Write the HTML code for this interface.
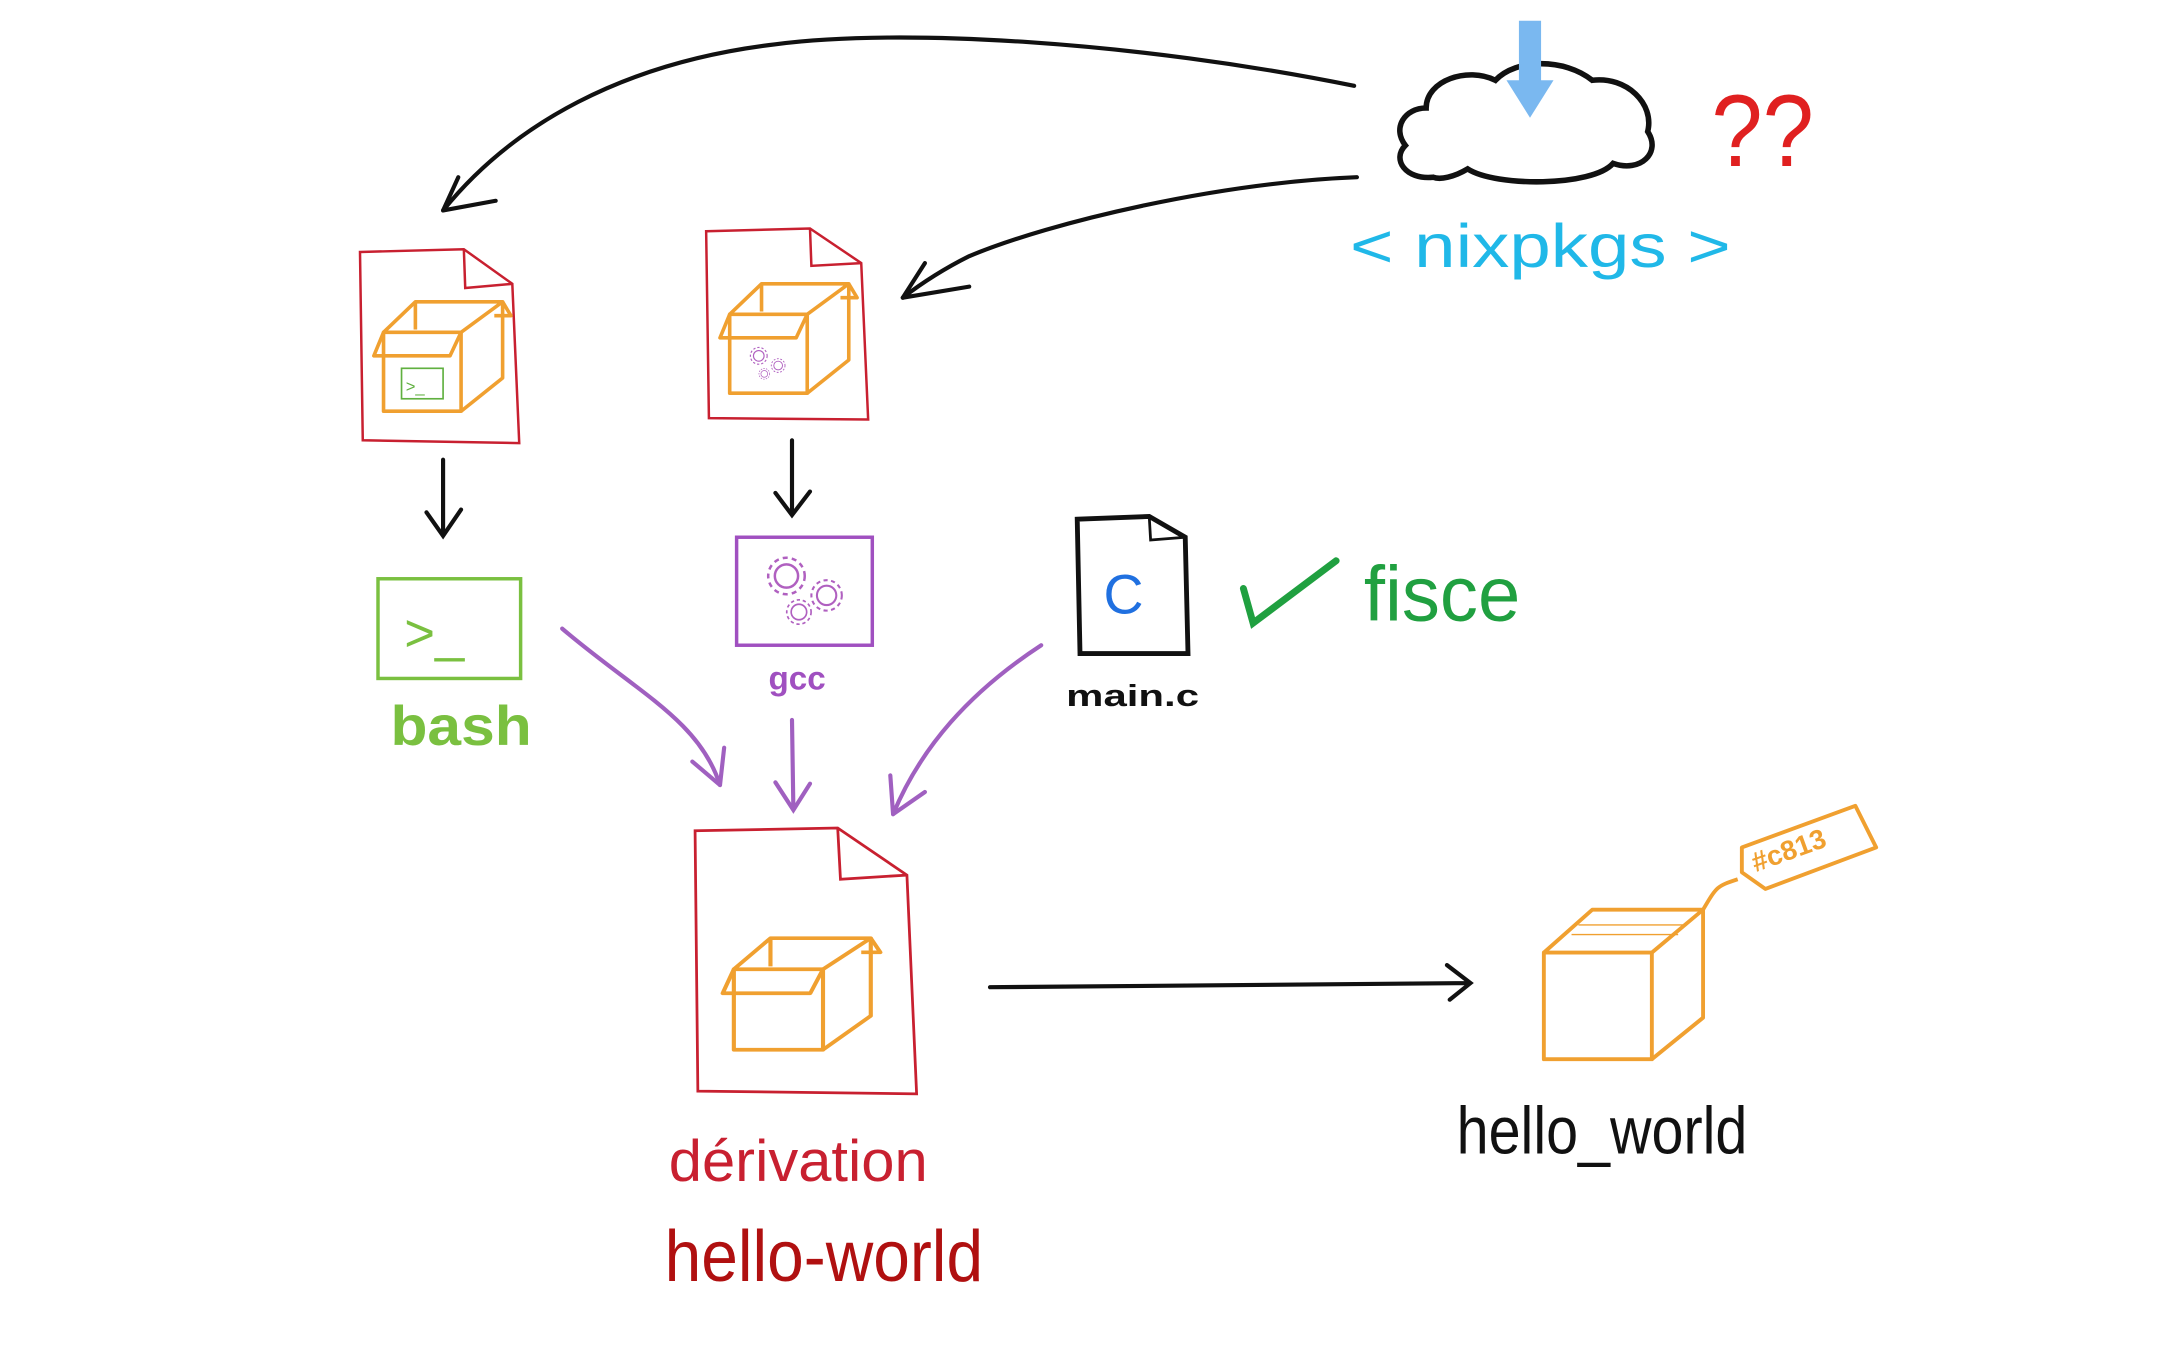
<!DOCTYPE html>
<html><head><meta charset="utf-8"><style>
html,body{margin:0;padding:0;background:#fff;}
svg{display:block;}
text{font-family:"Liberation Sans",sans-serif;}
</style></head><body>
<svg width="2160" height="1350" viewBox="0 0 1560 975" preserveAspectRatio="none" xmlns="http://www.w3.org/2000/svg">
<defs>
<g id="box" fill="none" stroke="#f0a030" stroke-width="2.6" stroke-linejoin="round">
  <rect x="0" y="0" width="56" height="57"/>
  <path d="M0,0 L23,-22 L86,-22 L56,0"/>
  <path d="M23,-22 L23,-2"/>
  <path d="M86,-22 L86,33 L56,57"/>
  <path d="M0,0 L-7,17 L48,17 L56,0"/>
  <path d="M86,-22 L92,-12 L80,-12"/>
</g>
<g id="gear" fill="none" stroke="#b060c0" stroke-width="1.5">
  <circle r="7"/><circle r="11" stroke-dasharray="3 2.5"/>
</g>
</defs>

<g fill="none" stroke="#111" stroke-width="3" stroke-linecap="round">
  <path d="M978,62 C820,30 650,20 560,32 C450,45 370,90 320,152"/>
  <path d="M320,152 L358,145 M320,152 L331,128"/>
  <path d="M980,128 C880,132 760,160 700,185 C680,195 665,205 652,215"/>
  <path d="M652,215 L700,207 M652,215 L668,190"/>
  <path d="M320,332 L320,386 M308,370 L320,387 L333,368"/>
  <path d="M572,318 L572,370 M560,356 L572,372 L585,355"/>
  <path d="M715,713 L1062,710 M1045,697 L1062,710 L1047,722"/>
</g>

<path d="M1035,128 C1015,130 1005,115 1015,105 C1005,92 1015,78 1030,78 C1030,58 1060,48 1080,58 C1095,42 1130,42 1150,58 C1175,55 1195,75 1190,95 C1200,110 1185,125 1165,118 C1150,135 1080,135 1060,122 C1050,128 1040,130 1035,128 Z" fill="none" stroke="#111" stroke-width="4"/>
<path d="M1105,15 L1105,65" stroke="#7ab8f0" stroke-width="16"/>
<path d="M1088,58 L1105,85 L1122,58 Z" fill="#7ab8f0"/>
<text x="1236" y="120" font-size="74" fill="#e02020" textLength="74" lengthAdjust="spacingAndGlyphs">??</text>
<text x="975" y="193" font-size="44" fill="#20b8e8" textLength="275" lengthAdjust="spacingAndGlyphs">&lt; nixpkgs &gt;</text>

<path d="M260,182 L335,180 L370,205 L375,320 L262,318 Z" fill="none" stroke="#c82030" stroke-width="1.8"/>
<path d="M335,180 L336,208 L370,205" fill="none" stroke="#c82030" stroke-width="1.8"/>
<use href="#box" x="277" y="240"/>
<rect x="290" y="266" width="30" height="22" fill="none" stroke="#60b040" stroke-width="1.2"/>
<text x="293" y="283" font-size="12" fill="#60b040">&gt;_</text>

<path d="M510,167 L585,165 L622,190 L627,303 L512,302 Z" fill="none" stroke="#c82030" stroke-width="1.8"/>
<path d="M585,165 L586,192 L622,190" fill="none" stroke="#c82030" stroke-width="1.8"/>
<use href="#box" x="527" y="227"/>
<g transform="translate(548,257) scale(0.55)"><use href="#gear"/></g>
<g transform="translate(562,264) scale(0.45)"><use href="#gear"/></g>
<g transform="translate(552,270) scale(0.35)"><use href="#gear"/></g>

<rect x="273" y="418" width="103" height="72" fill="none" stroke="#7ac040" stroke-width="2.5"/>
<text x="292" y="470" font-size="38" fill="#7ac040">&gt;_</text>
<text x="282" y="538" font-size="40" font-weight="bold" fill="#7ac040" textLength="102" lengthAdjust="spacingAndGlyphs">bash</text>

<rect x="532" y="388" width="98" height="78" fill="none" stroke="#a050c0" stroke-width="2.5"/>
<g transform="translate(568,416) scale(1.2)"><use href="#gear"/></g>
<g transform="translate(597,430) scale(1)"><use href="#gear"/></g>
<g transform="translate(577,442) scale(0.8)"><use href="#gear"/></g>
<text x="555" y="498" font-size="24" font-weight="bold" fill="#a050c0">gcc</text>

<path d="M778,375 L830,373 L856,388 L858,472 L780,472 Z" fill="none" stroke="#111" stroke-width="3.5"/>
<path d="M830,373 L831,390 L856,388" fill="none" stroke="#111" stroke-width="2"/>
<text x="797" y="443" font-size="40" fill="#2070e0">C</text>
<text x="770" y="510" font-size="22" font-weight="bold" fill="#111" textLength="96" lengthAdjust="spacingAndGlyphs">main.c</text>

<path d="M898,425 L905,450 L965,405" fill="none" stroke="#20a040" stroke-width="5" stroke-linecap="round"/>
<text x="985" y="448" font-size="56" fill="#20a040" textLength="113" lengthAdjust="spacingAndGlyphs">fisce</text>

<g fill="none" stroke="#a060c0" stroke-width="3" stroke-linecap="round">
  <path d="M406,454 C460,500 505,520 520,567"/>
  <path d="M520,567 L500,550 M520,567 L523,540"/>
  <path d="M572,520 L573,585 M560,565 L573,585 L585,566"/>
  <path d="M752,466 C700,500 665,540 645,588"/>
  <path d="M645,588 L668,572 M645,588 L643,560"/>
</g>

<path d="M502,600 L605,598 L655,632 L662,790 L504,788 Z" fill="none" stroke="#c82030" stroke-width="2"/>
<path d="M605,598 L607,635 L655,632" fill="none" stroke="#c82030" stroke-width="2"/>
<g transform="translate(530,700) scale(1.15,1.02)"><use href="#box"/></g>
<text x="483" y="853" font-size="42" fill="#c82030" textLength="187" lengthAdjust="spacingAndGlyphs">dérivation</text>
<text x="480" y="925" font-size="52" fill="#b01010" textLength="230" lengthAdjust="spacingAndGlyphs">hello-world</text>

<g fill="none" stroke="#f0a030" stroke-width="2.8" stroke-linejoin="round">
  <rect x="1115" y="688" width="78" height="77"/>
  <path d="M1115,688 L1150,657 L1230,657 L1193,688"/>
  <path d="M1230,657 L1230,735 L1193,765"/>
  <path d="M1140,668 L1218,668 M1135,675 L1212,675" stroke-width="1"/>
  <path d="M1230,657 C1240,640 1240,640 1255,635"/>
  <path d="M1258,612 L1340,582 L1355,612 L1275,642 L1258,630 Z"/>
</g>
<text x="1268" y="630" font-size="20" font-weight="bold" fill="#f0a030" transform="rotate(-20 1268 630)">#c813</text>
<text x="1052" y="833" font-size="48" fill="#111" textLength="210" lengthAdjust="spacingAndGlyphs">hello_world</text>
</svg>
</body></html>
